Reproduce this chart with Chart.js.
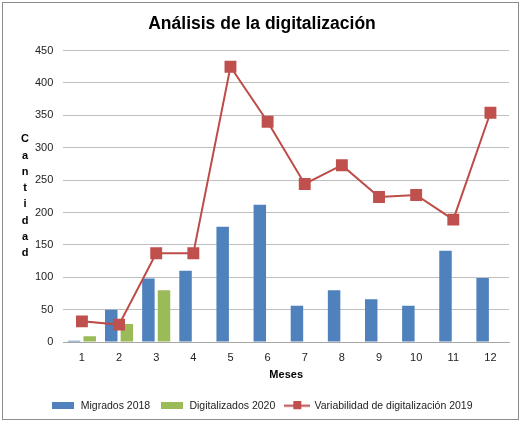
<!DOCTYPE html>
<html>
<head>
<meta charset="utf-8">
<script src="https://cdn.jsdelivr.net/npm/chart.js@4"></script>
<style>
  html,body{margin:0;padding:0;background:#fff;}
  #wrap{position:relative;width:524px;height:425px;}
  #frame{position:absolute;left:2px;top:2px;width:517px;height:418px;border:1px solid #8c8c8c;box-sizing:border-box;pointer-events:none;}
  canvas{position:absolute;left:0;top:0;}
</style>
</head>
<body>
<div id="wrap">
  <canvas id="c" width="524" height="425"></canvas>
  <div id="frame"></div>
</div>
<script>
const categories = ['1','2','3','4','5','6','7','8','9','10','11','12'];
const migrados2018 = [2, 50, 98, 110, 178, 212, 56, 80, 66, 56, 141, 99];
const digitalizados2020 = [9, 28, 80, null, null, null, null, null, null, null, null, null];
const variabilidad2019 = [32, 27, 137, 137, 425, 340, 244, 273, 224, 227, 189, 354];
const seriesNames = ['Migrados 2018', 'Digitalizados 2020', 'Variabilidad de digitalización 2019'];
const chartTitle = 'Análisis de la digitalización';
const xAxisTitle = 'Meses';
const yAxisTitle = 'Cantidad';
const yMin = 0, yMax = 450, yStep = 50;

const BLUE = '#4F81BD', GREEN = '#9BBB59', RED = '#C0504D', LINE_RED = '#BE4B48';
const FONT = 'Liberation Sans';

function makeBox(color){
  const c = document.createElement('canvas');
  c.width = 22; c.height = 7;
  const x = c.getContext('2d');
  x.fillStyle = color; x.fillRect(0,0,22,7);
  return c;
}
function makeLineMarker(){
  const c = document.createElement('canvas');
  c.width = 26; c.height = 9;
  const x = c.getContext('2d');
  x.strokeStyle = LINE_RED; x.lineWidth = 2;
  x.beginPath(); x.moveTo(0,4.5); x.lineTo(26,4.5); x.stroke();
  x.fillStyle = RED; x.fillRect(9,0,8,8);
  return c;
}
const legendIcons = [makeBox(BLUE), makeBox(GREEN), makeLineMarker()];

const verticalLabel = {
  id: 'verticalLabel',
  afterDraw(chart){
    const ctx = chart.ctx;
    const area = chart.chartArea;
    ctx.save();
    ctx.font = 'bold 11px ' + FONT;
    ctx.fillStyle = '#000';
    ctx.textAlign = 'center';
    ctx.textBaseline = 'middle';
    const step = 16.3;
    const n = yAxisTitle.length;
    const cy = (area.top + area.bottom) / 2;
    const start = cy - step * (n - 1) / 2;
    for (let i = 0; i < n; i++) {
      ctx.fillText(yAxisTitle[i], 25, start + i * step);
    }
    ctx.restore();
  }
};

new Chart(document.getElementById('c'), {
  type: 'bar',
  data: {
    labels: categories,
    datasets: [
      { label: seriesNames[0], data: migrados2018, backgroundColor: BLUE, borderWidth: 0,
        categoryPercentage: 0.84, barPercentage: 0.8, order: 2 },
      { label: seriesNames[1], data: digitalizados2020, backgroundColor: GREEN, borderWidth: 0,
        categoryPercentage: 0.84, barPercentage: 0.8, order: 2 },
      { type: 'line', label: seriesNames[2], data: variabilidad2019,
        borderColor: LINE_RED, backgroundColor: RED, borderWidth: 2,
        pointStyle: 'rect', pointRadius: 7, pointBorderColor: RED, pointBackgroundColor: RED,
        tension: 0, order: 1 }
    ]
  },
  options: {
    responsive: false,
    animation: false,
    devicePixelRatio: 1,
    layout: { padding: { left: 15, right: 15, top: 4, bottom: 4 } },
    plugins: {
      title: {
        display: true, text: chartTitle, color: '#000',
        font: { family: FONT, size: 17.5, weight: 'bold' },
        padding: { top: 10, bottom: 15.5 }
      },
      legend: {
        position: 'bottom',
        labels: {
          color: '#222',
          font: { family: FONT, size: 10.5 },
          usePointStyle: true,
          pointStyleWidth: 24,
          boxHeight: 8,
          padding: 10,
          generateLabels(chart){
            return chart.data.datasets.map((ds, i) => ({
              text: ds.label, datasetIndex: i, pointStyle: legendIcons[i],
              fillStyle: ds.backgroundColor, strokeStyle: ds.borderColor || ds.backgroundColor,
              lineWidth: 0, hidden: false, fontColor: '#222'
            }));
          }
        }
      },
      tooltip: { enabled: false }
    },
    scales: {
      x: {
        grid: { display: false, drawTicks: false },
        border: { display: true, color: '#a6a6a6', width: 1 },
        ticks: { color: '#222', font: { family: FONT, size: 11 }, padding: 9 },
        title: { display: true, text: xAxisTitle, color: '#000',
          font: { family: FONT, size: 11, weight: 'bold' }, padding: { top: -5, bottom: 9 } }
      },
      y: {
        min: yMin, max: yMax,
        afterFit(scale){ scale.width += 10; },
        ticks: { stepSize: yStep, color: '#222', font: { family: FONT, size: 11 }, padding: 10 },
        grid: { color: '#bfbfbf', lineWidth: 1, drawTicks: false },
        border: { display: false }
      }
    }
  },
  plugins: [verticalLabel]
});
</script>
</body>
</html>
